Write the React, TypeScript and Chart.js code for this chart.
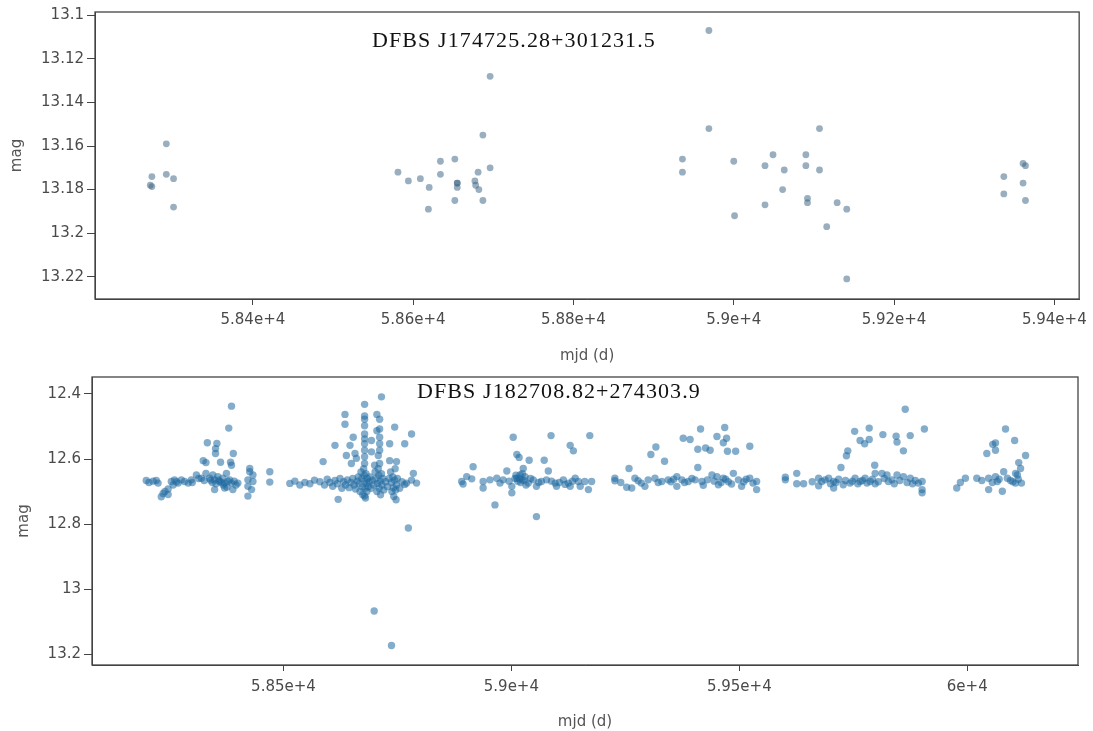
import React, { useEffect, useRef } from 'react';
import { Chart, registerables } from 'chart.js';

Chart.register(...registerables);

// ---- DFBS J174725.28+301231.5 light curve ----
const topMjd = [
  58272, 58274, 58274, 58292, 58292, 58301, 58301,
  58581, 58594, 58609, 58620, 58619, 58634, 58634, 58652, 58652, 58655, 58655, 58655,
  58677, 58678, 58681, 58682, 58687, 58687, 58696, 58696,
  58936, 58936, 58969, 58969, 59000, 59001, 59039, 59039, 59049, 59063, 59061,
  59090, 59090, 59092, 59092, 59107, 59107, 59129, 59141, 59116, 59141,
  59337, 59337, 59361, 59364, 59361, 59364,
];
const topMag = [
  13.178, 13.1786, 13.174, 13.159, 13.173, 13.175, 13.188,
  13.172, 13.176, 13.175, 13.179, 13.189, 13.167, 13.173, 13.166, 13.185, 13.177, 13.177, 13.179,
  13.176, 13.178, 13.172, 13.18, 13.155, 13.185, 13.128, 13.17,
  13.166, 13.172, 13.107, 13.152, 13.167, 13.192, 13.169, 13.187, 13.164, 13.171, 13.18,
  13.164, 13.169, 13.184, 13.186, 13.152, 13.171, 13.186, 13.189, 13.197, 13.221,
  13.174, 13.182, 13.168, 13.169, 13.177, 13.185,
];
const topXTicks = [58400, 58600, 58800, 59000, 59200, 59400];
const topXTickLabels = ['5.84e+4', '5.86e+4', '5.88e+4', '5.9e+4', '5.92e+4', '5.94e+4'];
const topYTicks = [13.1, 13.12, 13.14, 13.16, 13.18, 13.2, 13.22];
const topYTickLabels = ['13.1', '13.12', '13.14', '13.16', '13.18', '13.2', '13.22'];

// ---- DFBS J182708.82+274303.9 light curve, one array per observing season ----
const season2018: [number, number][] = [
  [58199, 12.666], [58221, 12.666], [58225, 12.674], [58232, 12.716], [58247, 12.709], [58247, 12.692],
  [58254, 12.669], [58261, 12.664], [58269, 12.674], [58276, 12.664], [58283, 12.669], [58291, 12.674],
  [58298, 12.664], [58309, 12.649], [58320, 12.659], [58330, 12.644], [58338, 12.659], [58345, 12.649],
  [58349, 12.664], [58356, 12.654], [58360, 12.669], [58367, 12.659], [58371, 12.674], [58375, 12.644],
  [58382, 12.664], [58386, 12.674], [58389, 12.694], [58400, 12.674], [58349, 12.694], [58371, 12.689],
  [58422, 12.664], [58422, 12.684], [58422, 12.714], [58433, 12.649], [58433, 12.669], [58430, 12.694],
  [58470, 12.639], [58470, 12.671],
  [58386, 12.4375], [58380, 12.505], [58333, 12.55], [58354, 12.552], [58351, 12.568], [58351, 12.583],
  [58390, 12.583], [58324, 12.605], [58330, 12.611], [58362, 12.61], [58384, 12.61], [58386, 12.619],
  [58426, 12.629], [58426, 12.639],
  [58340, 12.665], [58344, 12.672], [58352, 12.676], [58358, 12.665], [58364, 12.672], [58368, 12.68],
  [58378, 12.668], [58392, 12.668], [58396, 12.68], [58376, 12.686], [58240, 12.7], [58236, 12.706],
  [58258, 12.68], [58265, 12.67], [58205, 12.672], [58214, 12.668], [58300, 12.672], [58314, 12.66],
  [58326, 12.666],
];
const season2019: [number, number][] = [
  [58715, 12.409], [58678, 12.432], [58635, 12.463], [58678, 12.468], [58678, 12.478], [58705, 12.463],
  [58711, 12.478], [58635, 12.493], [58678, 12.498], [58705, 12.513], [58711, 12.508], [58744, 12.502],
  [58653, 12.533], [58678, 12.523], [58678, 12.538], [58693, 12.543], [58711, 12.533], [58781, 12.523],
  [58613, 12.558], [58646, 12.558], [58678, 12.553], [58711, 12.553], [58766, 12.553], [58587, 12.608],
  [58638, 12.589], [58657, 12.583], [58660, 12.598], [58678, 12.573], [58678, 12.593], [58693, 12.578],
  [58708, 12.589], [58711, 12.573], [58748, 12.608], [58649, 12.614], [58678, 12.614], [58700, 12.619],
  [58711, 12.614], [58785, 12.644], [58620, 12.724], [58678, 12.714], [58733, 12.553], [58733, 12.605],
  [58514, 12.675], [58525, 12.668], [58536, 12.68], [58547, 12.672], [58558, 12.676], [58568, 12.665],
  [58580, 12.67], [58590, 12.68], [58596, 12.662], [58602, 12.672], [58608, 12.684], [58613, 12.666],
  [58618, 12.676], [58624, 12.66], [58628, 12.69], [58632, 12.67], [58636, 12.68], [58640, 12.664],
  [58644, 12.688], [58648, 12.672], [58652, 12.66], [58655, 12.68], [58658, 12.692], [58662, 12.668],
  [58664, 12.655], [58666, 12.676], [58668, 12.7], [58670, 12.64], [58672, 12.66], [58673, 12.686],
  [58674, 12.71], [58676, 12.63], [58677, 12.65], [58678, 12.668], [58679, 12.69], [58680, 12.72],
  [58681, 12.645], [58682, 12.675], [58683, 12.7], [58684, 12.66], [58686, 12.685], [58688, 12.67],
  [58690, 12.655], [58692, 12.69], [58695, 12.665], [58698, 12.68], [58701, 12.64], [58703, 12.66],
  [58705, 12.7], [58706, 12.675], [58708, 12.63], [58709, 12.65], [58710, 12.69], [58712, 12.668],
  [58713, 12.71], [58715, 12.645], [58716, 12.68], [58718, 12.66], [58720, 12.695], [58724, 12.67],
  [58728, 12.685], [58732, 12.66], [58735, 12.64], [58737, 12.672], [58738, 12.7], [58740, 12.655],
  [58741, 12.688], [58742, 12.715], [58744, 12.665], [58745, 12.63], [58746, 12.695], [58747, 12.725],
  [58748, 12.68], [58750, 12.66], [58755, 12.69], [58760, 12.67], [58766, 12.678], [58770, 12.674],
  [58781, 12.665], [58792, 12.674],
  [58699, 13.067], [58737, 13.173], [58774, 12.812],
];
const season2020: [number, number][] = [
  [59004, 12.533], [59087, 12.528], [59172, 12.528], [59129, 12.558], [59136, 12.575], [59012, 12.586],
  [59017, 12.595], [59039, 12.604], [59072, 12.604], [58916, 12.624], [58990, 12.637], [59026, 12.629],
  [59081, 12.637], [58902, 12.654], [58891, 12.669], [58894, 12.677], [58913, 12.661], [58938, 12.669],
  [58938, 12.689], [58953, 12.664], [58968, 12.659], [58975, 12.674], [58982, 12.664], [59001, 12.684],
  [59001, 12.704], [59012, 12.659], [59019, 12.649], [59023, 12.664], [59030, 12.654], [59037, 12.674],
  [59048, 12.664], [59055, 12.684], [59066, 12.669], [59077, 12.664], [59096, 12.674], [59099, 12.684],
  [59114, 12.664], [59125, 12.674], [59129, 12.684], [59140, 12.659], [59147, 12.669], [59151, 12.684],
  [59161, 12.669], [59169, 12.694], [59176, 12.669], [58964, 12.741], [59055, 12.777],
  [59008, 12.66], [59014, 12.668], [59020, 12.672], [59024, 12.645], [59028, 12.666], [59032, 12.68],
  [59010, 12.65], [59018, 12.66], [58995, 12.668], [59042, 12.66], [59060, 12.672], [59088, 12.668],
  [59105, 12.672], [59118, 12.678], [59134, 12.668],
];
const season2021: [number, number][] = [
  [59468, 12.503], [59415, 12.508], [59451, 12.531], [59472, 12.536], [59377, 12.536], [59392, 12.54],
  [59465, 12.55], [59523, 12.561], [59317, 12.563], [59409, 12.57], [59426, 12.566], [59436, 12.573],
  [59474, 12.576], [59492, 12.576], [59306, 12.586], [59336, 12.607], [59258, 12.629], [59409, 12.626],
  [59227, 12.659], [59227, 12.667], [59271, 12.659], [59278, 12.667], [59300, 12.664], [59315, 12.659],
  [59330, 12.669], [59344, 12.664], [59363, 12.654], [59374, 12.664], [59388, 12.669], [59403, 12.664],
  [59418, 12.669], [59440, 12.649], [59451, 12.654], [59465, 12.659], [59487, 12.644], [59498, 12.664],
  [59505, 12.684], [59523, 12.659], [59538, 12.669], [59538, 12.694], [59253, 12.687], [59264, 12.689],
  [59293, 12.684], [59363, 12.684], [59421, 12.681], [59454, 12.679], [59483, 12.677],
  [59240, 12.672], [59285, 12.674], [59322, 12.672], [59350, 12.67], [59356, 12.662], [59380, 12.672],
  [59396, 12.66], [59430, 12.664], [59445, 12.668], [59460, 12.672], [59470, 12.662], [59476, 12.67],
  [59510, 12.67], [59515, 12.662], [59530, 12.674],
];
const season2022: [number, number][] = [
  [59864, 12.447], [59785, 12.505], [59753, 12.515], [59906, 12.508], [59815, 12.525], [59844, 12.53],
  [59875, 12.528], [59765, 12.543], [59775, 12.553], [59785, 12.54], [59846, 12.548], [59860, 12.575],
  [59738, 12.575], [59735, 12.59], [59797, 12.619], [59723, 12.626], [59601, 12.656], [59601, 12.664],
  [59626, 12.644], [59626, 12.676], [59641, 12.676], [59674, 12.659], [59681, 12.669], [59696, 12.659],
  [59707, 12.669], [59718, 12.662], [59733, 12.666], [59743, 12.674], [59754, 12.659], [59765, 12.669],
  [59776, 12.659], [59787, 12.669], [59798, 12.644], [59813, 12.644], [59824, 12.649], [59798, 12.676],
  [59827, 12.669], [59846, 12.649], [59860, 12.654], [59875, 12.659], [59886, 12.666], [59893, 12.674],
  [59901, 12.669], [59901, 12.694], [59901, 12.704], [59674, 12.682], [59707, 12.689], [59728, 12.679],
  [59660, 12.67], [59688, 12.664], [59700, 12.676], [59712, 12.672], [59748, 12.668], [59760, 12.676],
  [59770, 12.666], [59780, 12.674], [59792, 12.662], [59805, 12.67], [59818, 12.66], [59835, 12.664],
  [59840, 12.676], [59852, 12.666], [59868, 12.672], [59880, 12.676],
];
const season2023: [number, number][] = [
  [59977, 12.689], [59985, 12.672], [59996, 12.659], [60021, 12.659], [60032, 12.666], [60047, 12.694],
  [60047, 12.659], [60062, 12.654], [60066, 12.669], [60077, 12.699], [60080, 12.639], [60088, 12.659],
  [60095, 12.666], [60106, 12.644], [60106, 12.674], [60119, 12.674], [60113, 12.611], [60117, 12.629],
  [60110, 12.649], [60084, 12.508], [60104, 12.543], [60062, 12.551], [60056, 12.555], [60062, 12.573],
  [60043, 12.583], [60128, 12.589], [60070, 12.662], [60100, 12.67], [60112, 12.662], [60055, 12.672],
];
const bottomXTicks = [58500, 59000, 59500, 60000];
const bottomXTickLabels = ['5.85e+4', '5.9e+4', '5.95e+4', '6e+4'];
const bottomYTicks = [12.4, 12.6, 12.8, 13, 13.2];
const bottomYTickLabels = ['12.4', '12.6', '12.8', '13', '13.2'];

const AXIS_FONT = 'DejaVu Sans';
const FRAME = '#444';

const framePlugin = {
  id: 'frameBox',
  afterDraw(chart: any) {
    const { ctx, chartArea: a } = chart;
    ctx.save();
    ctx.strokeStyle = FRAME;
    ctx.lineWidth = 1.3;
    ctx.strokeRect(a.left, a.top, a.right - a.left, a.bottom - a.top);
    ctx.restore();
  },
};

function labelFor(values: number[], labels: string[]) {
  return (v: number | string) => {
    const i = values.findIndex((t) => Math.abs(t - Number(v)) < 1e-6);
    return i >= 0 ? labels[i] : '';
  };
}

type PanelSpec = {
  points: { x: number; y: number }[];
  color: string;
  radius: number;
  xMin: number; xMax: number; yMin: number; yMax: number;
  xTicks: number[]; xLabels: string[]; yTicks: number[]; yLabels: string[];
  yAxisWidth: number; xAxisHeight: number;
  padTop: number; padRight: number;
  yTitlePad: number; xTitlePad: number; xTickPad: number;
};

function buildConfig(p: PanelSpec): any {
  return {
    type: 'scatter',
    data: {
      datasets: [{
        data: p.points,
        backgroundColor: p.color,
        borderWidth: 0,
        pointRadius: p.radius,
        pointHoverRadius: p.radius,
      }],
    },
    options: {
      animation: false,
      responsive: false,
      devicePixelRatio: 1,
      events: [],
      layout: { padding: { left: 0, right: p.padRight, top: p.padTop, bottom: 0 } },
      plugins: { legend: { display: false }, tooltip: { enabled: false } },
      scales: {
        x: {
          type: 'linear',
          min: p.xMin,
          max: p.xMax,
          afterBuildTicks: (s: any) => { s.ticks = p.xTicks.map((v) => ({ value: v })); },
          afterFit: (s: any) => { s.height = p.xAxisHeight; },
          grid: { drawOnChartArea: false, drawTicks: true, tickLength: 6, color: FRAME },
          border: { display: true, color: FRAME },
          ticks: {
            callback: labelFor(p.xTicks, p.xLabels),
            color: '#4a4a4a',
            padding: p.xTickPad,
            maxRotation: 0,
            autoSkip: false,
            font: { family: AXIS_FONT, size: 15 },
          },
          title: {
            display: true,
            text: 'mjd (d)',
            color: '#555',
            font: { family: AXIS_FONT, size: 15 },
            padding: { top: p.xTitlePad, bottom: 0 },
          },
        },
        y: {
          type: 'linear',
          reverse: true,
          min: p.yMin,
          max: p.yMax,
          afterBuildTicks: (s: any) => { s.ticks = p.yTicks.map((v) => ({ value: v })); },
          afterFit: (s: any) => { s.width = p.yAxisWidth; },
          grid: { drawOnChartArea: false, drawTicks: true, tickLength: 8, color: FRAME },
          border: { display: true, color: FRAME },
          ticks: {
            callback: labelFor(p.yTicks, p.yLabels),
            color: '#4a4a4a',
            padding: 3,
            autoSkip: false,
            font: { family: AXIS_FONT, size: 15 },
          },
          title: {
            display: true,
            text: 'mag',
            color: '#555',
            font: { family: AXIS_FONT, size: 15 },
            padding: { top: p.yTitlePad, bottom: 0 },
          },
        },
      },
    },
    plugins: [framePlugin],
  };
}

function Panel({ spec, width, height, top, title, titleLeft, titleTop }: {
  spec: PanelSpec; width: number; height: number; top: number;
  title: string; titleLeft: number; titleTop: number;
}) {
  const ref = useRef<HTMLCanvasElement | null>(null);
  useEffect(() => {
    if (!ref.current) return;
    const chart = new Chart(ref.current, buildConfig(spec));
    return () => chart.destroy();
  }, [spec]);
  return (
    <div style={{ position: 'absolute', left: 0, top, width, height }}>
      <canvas ref={ref} width={width} height={height} style={{ display: 'block' }} />
      <div
        style={{
          position: 'absolute',
          left: titleLeft,
          top: titleTop,
          fontFamily: '"Liberation Serif", "Times New Roman", serif',
          fontSize: 22,
          lineHeight: '22px',
          letterSpacing: '1.1px',
          color: '#111',
          whiteSpace: 'nowrap',
        }}
      >
        {title}
      </div>
    </div>
  );
}

const topSpec: PanelSpec = {
  points: topMjd.map((x, i) => ({ x, y: topMag[i] })),
  color: 'rgba(60, 100, 130, 0.52)',
  radius: 3.4,
  xMin: 58203, xMax: 59431, yMin: 13.0985, yMax: 13.2302,
  xTicks: topXTicks, xLabels: topXTickLabels, yTicks: topYTicks, yLabels: topYTickLabels,
  yAxisWidth: 95, xAxisHeight: 66, padTop: 8, padRight: 12,
  yTitlePad: 8, xTitlePad: 7, xTickPad: 6,
};

const bottomPoints = [...season2018, ...season2019, ...season2020, ...season2021, ...season2022, ...season2023]
  .map(([x, y]) => ({ x, y }));

const bottomSpec: PanelSpec = {
  points: bottomPoints,
  color: 'rgba(31, 105, 160, 0.55)',
  radius: 3.7,
  xMin: 58080, xMax: 60243, yMin: 12.348, yMax: 13.233,
  xTicks: bottomXTicks, xLabels: bottomXTickLabels, yTicks: bottomYTicks, yLabels: bottomYTickLabels,
  yAxisWidth: 92, xAxisHeight: 66, padTop: 7, padRight: 15,
  yTitlePad: 15, xTitlePad: 6, xTickPad: 7,
};

export default function App() {
  return (
    <div style={{ position: 'absolute', left: 0, top: 0, width: 1093, height: 731, background: '#fff' }}>
      <Panel spec={topSpec} width={1093} height={365} top={0}
        title="DFBS J174725.28+301231.5" titleLeft={372} titleTop={29} />
      <Panel spec={bottomSpec} width={1093} height={366} top={365}
        title="DFBS J182708.82+274303.9" titleLeft={417} titleTop={15} />
    </div>
  );
}
